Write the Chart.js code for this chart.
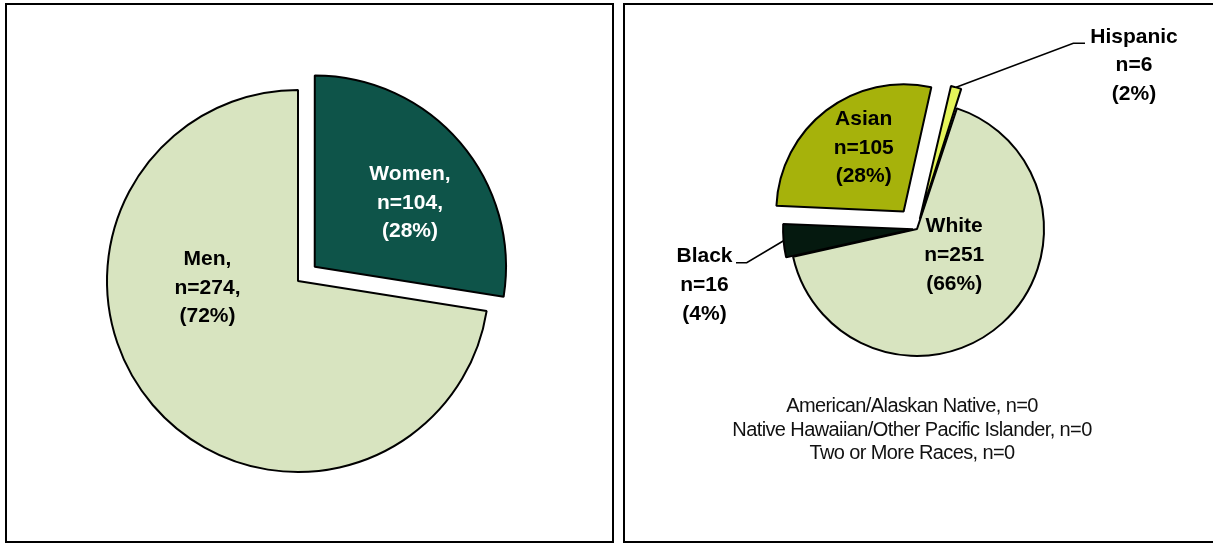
<!DOCTYPE html>
<html>
<head>
<meta charset="utf-8">
<script src="https://cdn.jsdelivr.net/npm/chart.js@4.4.1/dist/chart.umd.min.js"></script>
<style>
  body { margin: 0; background: #fff; overflow: hidden; width: 1213px; height: 544px; position: relative; }
  .panel { position: absolute; top: 3px; height: 540px; border: 2px solid #000; box-sizing: border-box; background: #fff; }
  #panelA { left: 5px; width: 609px; }
  #panelB { left: 623px; width: 600px; }
  canvas { display: block; }
</style>
</head>
<body>
<div class="panel" id="panelA"><canvas id="genderChart" width="605" height="536"></canvas></div>
<div class="panel" id="panelB"><canvas id="raceChart" width="596" height="536"></canvas></div>
<script>
// gender pie
let genderLabels = ['Women', 'Men'];
let genderCounts = [104, 274];
let genderColors = ['#0E5449', '#D8E4C0'];

// race pie
let raceLabels = ['White', 'Black', 'Asian', 'Hispanic'];
let raceCounts = [251, 16, 105, 6];
let raceColors = ['#D8E4C0', '#05190F', '#A6B20B', '#E4F45A'];

// groups with no one in them, listed under the race pie
let zeroLabels = ['American/Alaskan Native', 'Native Hawaiian/Other Pacific Islander', 'Two or More Races'];
let zeroCounts = [0, 0, 0];

// text on / next to each slice
let sliceLabels = {
  id: 'sliceLabels',
  afterDraw(chart, args, opts) {
    let ctx = chart.ctx;
    let meta = chart.getDatasetMeta(0);
    let data = chart.data.datasets[0].data;
    let total = data.reduce((a, b) => a + b, 0);
    ctx.save();
    ctx.textAlign = 'center';
    ctx.textBaseline = 'alphabetic';
    ctx.font = 'bold 21px "Liberation Sans", Arial, sans-serif';
    meta.data.forEach((arc, i) => {
      let p = opts.place[i];
      let sep = opts.comma ? ',' : '';
      let lines = [
        chart.data.labels[i] + sep,
        'n=' + data[i] + sep,
        '(' + Math.round(data[i] / total * 100) + '%)'
      ];
      ctx.fillStyle = opts.colors[i];
      lines.forEach((t, k) => ctx.fillText(t, arc.x + p[0], arc.y + p[1] + k * opts.lineGap));

      let lead = opts.leaders ? opts.leaders[i] : null;
      if (lead) {
        let mid = (arc.startAngle + arc.endAngle) / 2;
        let off = (arc.options.offset || 0) / 4;
        let fix = 1 - Math.sin(Math.min(Math.PI, arc.circumference));
        let dist = arc.outerRadius + off + off * fix;
        ctx.beginPath();
        ctx.moveTo(arc.x + Math.cos(mid) * dist, arc.y + Math.sin(mid) * dist);
        ctx.lineTo(arc.x + lead[0], arc.y + lead[1]);
        ctx.lineTo(arc.x + lead[2], arc.y + lead[1]);
        ctx.strokeStyle = '#000';
        ctx.lineWidth = 1.6;
        ctx.stroke();
      }
    });

    if (opts.notes) {
      let arc = meta.data[0];
      ctx.font = '20px "Liberation Sans", Arial, sans-serif';
      ctx.letterSpacing = '-0.6px';
      ctx.fillStyle = '#111';
      opts.notes.forEach((t, k) => ctx.fillText(t, arc.x + opts.notePlace[0], arc.y + opts.notePlace[1] + k * opts.noteGap));
    }
    ctx.restore();
  }
};

let genderChart = new Chart(document.getElementById('genderChart'), {
  type: 'pie',
  data: {
    labels: genderLabels,
    datasets: [{
      data: genderCounts,
      backgroundColor: genderColors,
      borderColor: '#000',
      borderWidth: 2,
      offset: [88, 0],
      radius: 191,
      clip: false
    }]
  },
  options: {
    responsive: false,
    animation: false,
    events: [],
    rotation: 0,
    layout: { padding: { top: 16, right: 23 } },
    plugins: {
      legend: { display: false },
      tooltip: { enabled: false },
      sliceLabels: {
        comma: true,
        colors: ['#fff', '#000'],
        place: [[112, -101], [-90.5, -16]],
        lineGap: 28.7
      }
    }
  },
  plugins: [sliceLabels]
});

let raceChart = new Chart(document.getElementById('raceChart'), {
  type: 'pie',
  data: {
    labels: raceLabels,
    datasets: [{
      data: raceCounts,
      backgroundColor: raceColors,
      borderColor: '#000',
      borderWidth: 2,
      offset: [0, 16, 88, 42],
      radius: 127,
      clip: false
    }]
  },
  options: {
    responsive: false,
    animation: false,
    events: [],
    rotation: 18.3,
    layout: { padding: { right: 12, bottom: 88 } },
    plugins: {
      legend: { display: false },
      tooltip: { enabled: false },
      sliceLabels: {
        comma: false,
        colors: ['#000', '#000', '#000', '#000'],
        place: [[37.2, 3.3], [-212.5, 33.3], [-53.3, -104], [217, -186.3]],
        leaders: [null, [-170.3, 33.7, -181], null, [156.3, -185.7, 168]],
        lineGap: 28.7,
        notes: zeroLabels.map((name, i) => name + ', n=' + zeroCounts[i]),
        notePlace: [-5, 182.7],
        noteGap: 23.8
      }
    }
  },
  plugins: [sliceLabels]
});
</script>
</body>
</html>
